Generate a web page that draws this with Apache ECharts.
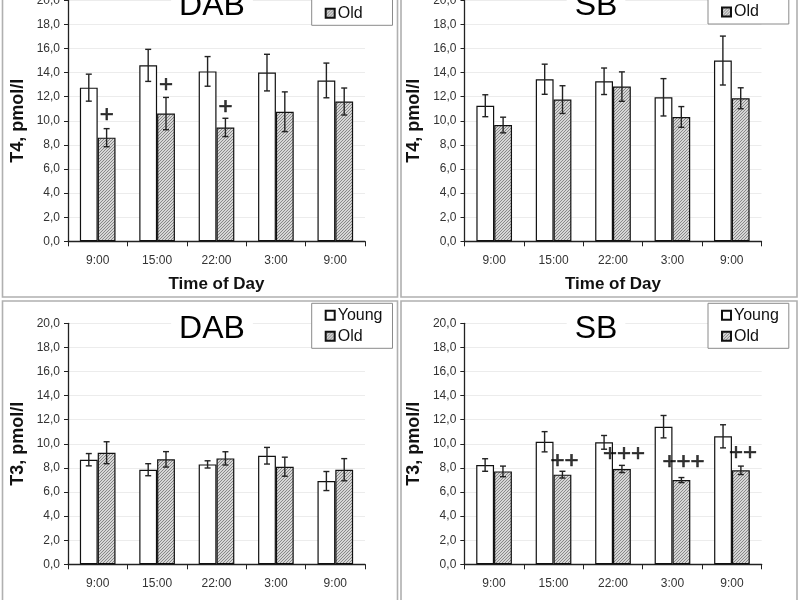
<!DOCTYPE html>
<html><head><meta charset="utf-8">
<script src="https://cdn.jsdelivr.net/npm/echarts@6/dist/echarts.min.js"></script>
<style>html,body{margin:0;padding:0;background:#fff}#c{width:800px;height:600px}</style>
</head><body><div id="c"></div>
<script>
// ---------- DATA ----------
const categories = ['9:00', '15:00', '22:00', '3:00', '9:00'];
const seriesNames = ['Young', 'Old'];
const yMin = 0, yMax = 20, yStep = 2;

const dabT4Young    = [12.75, 14.6, 14.1, 14.0, 13.35];
const dabT4YoungErr = [1.12, 1.33, 1.23, 1.52, 1.44];
const dabT4Old      = [8.6, 10.6, 9.45, 10.75, 11.6];
const dabT4OldErr   = [0.75, 1.34, 0.76, 1.65, 1.12];
const dabT4Marks    = ['+', '+', '+', '', ''];
const dabT4MarkAt   = [10.45, 12.95, 11.15, null, null];

const sbT4Young     = [11.25, 13.45, 13.28, 11.95, 15.0];
const sbT4YoungErr  = [0.91, 1.25, 1.1, 1.55, 2.03];
const sbT4Old       = [9.65, 11.76, 12.84, 10.32, 11.87];
const sbT4OldErr    = [0.65, 1.15, 1.22, 0.86, 0.87];
const sbT4Marks     = ['', '', '', '', ''];
const sbT4MarkAt    = [null, null, null, null, null];

const dabT3Young    = [8.68, 7.85, 8.29, 9.01, 6.91];
const dabT3YoungErr = [0.51, 0.5, 0.3, 0.69, 0.79];
const dabT3Old      = [9.26, 8.71, 8.79, 8.1, 7.85];
const dabT3OldErr   = [0.91, 0.64, 0.55, 0.79, 0.92];
const dabT3Marks    = ['', '', '', '', ''];
const dabT3MarkAt   = [null, null, null, null, null];

const sbT3Young     = [8.24, 10.17, 10.12, 11.42, 10.62];
const sbT3YoungErr  = [0.52, 0.84, 0.57, 0.93, 0.96];
const sbT3Old       = [7.71, 7.44, 7.91, 6.99, 7.8];
const sbT3OldErr    = [0.44, 0.28, 0.3, 0.21, 0.35];
const sbT3Marks     = ['', '++', '+++', '+++', '++'];
const sbT3MarkAt    = [null, 8.52, 9.16, 8.44, 9.24];

// ---------- LAYOUT ----------
const FONT = 'Arial, "Liberation Sans", sans-serif';
const panels = [
  { title: 'DAB', yName: 'T4, pmol/l', young: dabT4Young, youngErr: dabT4YoungErr, old: dabT4Old, oldErr: dabT4OldErr, marks: dabT4Marks, markAt: dabT4MarkAt,
    grid: { left: 68, top: 0.3, width: 297, height: 241 }, titlePos: [212, 5.8], legendPos: [311.7, -19.7], frame: [2.5, -40, 395, 337] },
  { title: 'SB', yName: 'T4, pmol/l', young: sbT4Young, youngErr: sbT4YoungErr, old: sbT4Old, oldErr: sbT4OldErr, marks: sbT4Marks, markAt: sbT4MarkAt,
    grid: { left: 464.5, top: 0.3, width: 297, height: 241 }, titlePos: [596, 5.8], legendPos: [708, -21], frame: [401, -40, 396, 337] },
  { title: 'DAB', yName: 'T3, pmol/l', young: dabT3Young, youngErr: dabT3YoungErr, old: dabT3Old, oldErr: dabT3OldErr, marks: dabT3Marks, markAt: dabT3MarkAt,
    grid: { left: 68, top: 323.3, width: 297, height: 241 }, titlePos: [212, 328.8], legendPos: [311.7, 303.3], frame: [2.5, 301, 395, 340] },
  { title: 'SB', yName: 'T3, pmol/l', young: sbT3Young, youngErr: sbT3YoungErr, old: sbT3Old, oldErr: sbT3OldErr, marks: sbT3Marks, markAt: sbT3MarkAt,
    grid: { left: 464.3, top: 323.3, width: 297.4, height: 241 }, titlePos: [596, 328.8], legendPos: [708, 303.3], frame: [401, 301, 396, 340] }
];

// hatch pattern
const pc = document.createElement('canvas');
pc.width = 3; pc.height = 3;
const pctx = pc.getContext('2d');
pctx.fillStyle = '#d6d6d6'; pctx.fillRect(0, 0, 3, 3);
pctx.fillStyle = '#888888';
for (let i = 0; i < 3; i++) pctx.fillRect(i, 2 - i, 1, 1);
const hatch = { image: pc, repeat: 'repeat' };

const BARW = 0.3;
function errSeries(k, vals, errs, sign) {
  return {
    type: 'custom', xAxisIndex: k, yAxisIndex: k, silent: true, z: 5,
    data: vals.map((v, i) => [i, v - errs[i], v + errs[i]]),
    renderItem(params, api) {
      const i = api.value(0);
      const lo = api.coord([i, api.value(1)]);
      const hi = api.coord([i, api.value(2)]);
      const bw = api.size([1, 0])[0] * BARW;
      const x = lo[0] + sign * bw / 2;
      const c = 3;
      const st = { stroke: '#222', lineWidth: 1.4 };
      return { type: 'group', children: [
        { type: 'line', shape: { x1: x, y1: lo[1], x2: x, y2: hi[1] }, style: st },
        { type: 'line', shape: { x1: x - c, y1: lo[1], x2: x + c, y2: lo[1] }, style: st },
        { type: 'line', shape: { x1: x - c, y1: hi[1], x2: x + c, y2: hi[1] }, style: st }
      ]};
    }
  };
}

const option = {
  backgroundColor: '#fff',
  animation: false,
  grid: [], xAxis: [], yAxis: [], series: [], legend: [], graphic: []
};

panels.forEach((p, k) => {
  option.grid.push(Object.assign({ outerBoundsMode: 'none', containLabel: false }, p.grid));
  option.xAxis.push({
    type: 'category', gridIndex: k, data: categories,
    axisLine: { lineStyle: { color: '#222', width: 1.3 } },
    axisTick: { show: true, length: 5, inside: false, lineStyle: { color: '#222' } },
    axisLabel: { fontSize: 12, color: '#333', margin: 13, fontFamily: FONT, interval: 0 },
    name: 'Time of Day', nameLocation: 'middle', nameGap: 35,
    nameTextStyle: { fontSize: 17, fontWeight: 'bold', color: '#111', fontFamily: FONT },
    splitLine: { show: false }
  });
  option.yAxis.push({
    type: 'value', gridIndex: k, min: yMin, max: yMax, interval: yStep,
    axisLine: { show: true, lineStyle: { color: '#222', width: 1.3 } },
    axisTick: { show: true, length: 4, inside: false, lineStyle: { color: '#222' } },
    axisLabel: { fontSize: 12, color: '#333', margin: 8, fontFamily: FONT,
      formatter: v => v.toFixed(1).replace('.', ',') },
    splitLine: { show: true, lineStyle: { color: '#ececec', width: 1 } },
    name: p.yName, nameLocation: 'middle', nameGap: 41,
    nameTextStyle: { fontSize: 18, fontWeight: 'bold', color: '#111', fontFamily: FONT }
  });
  option.series.push({
    type: 'bar', name: 'Young', xAxisIndex: k, yAxisIndex: k, data: p.young,
    barWidth: (BARW * 100) + '%', barGap: '0%',
    itemStyle: { color: '#fff', borderColor: '#111', borderWidth: 1.2 }
  });
  option.series.push({
    type: 'bar', name: 'Old', xAxisIndex: k, yAxisIndex: k, data: p.old,
    barWidth: (BARW * 100) + '%', barGap: '0%',
    itemStyle: { color: hatch, borderColor: '#111', borderWidth: 1.2 }
  });
  option.series.push(errSeries(k, p.young, p.youngErr, -1));
  option.series.push(errSeries(k, p.old, p.oldErr, 1));
  const md = p.marks.map((m, i) => m ? [i, p.markAt[i], m] : null).filter(Boolean);
  if (md.length) {
    option.series.push({
      type: 'scatter', xAxisIndex: k, yAxisIndex: k, silent: true, z: 6,
      symbolSize: 1, itemStyle: { color: 'transparent' },
      data: md,
      label: { show: true, position: 'inside', offset: [k === 3 ? 11 : 9, 0],
        formatter: q => q.data[2], fontSize: 24, fontWeight: 'normal', color: '#000',
        textBorderColor: '#000', textBorderWidth: 0.6, fontFamily: FONT }
    });
  }
  option.legend.push({
    data: seriesNames, orient: 'vertical', left: p.legendPos[0], top: p.legendPos[1],
    icon: 'rect', itemWidth: 9, itemHeight: 9, itemGap: 5,
    padding: [4, 10, 4, 13],
    backgroundColor: '#fff', borderColor: '#8a8a8a', borderWidth: 1,
    textStyle: { fontSize: 16, color: '#111', fontFamily: FONT, padding: [0, 0, 0, -2] },
    selectedMode: false
  });
  option.graphic.push({
    type: 'text', z: 50, x: p.titlePos[0], y: p.titlePos[1],
    style: { text: p.title, font: '32px ' + FONT, fill: '#000', textAlign: 'center', textVerticalAlign: 'middle',
      backgroundColor: '#fff', padding: [0, 8, 4, 8] }
  });
  option.graphic.push({
    type: 'rect', z: 60, silent: true,
    shape: { x: p.frame[0], y: p.frame[1], width: p.frame[2], height: p.frame[3] },
    style: { fill: 'none', stroke: '#b0b0b0', lineWidth: 1.6 }
  });
});

const chart = echarts.init(document.getElementById('c'), null, { renderer: 'canvas' });
chart.setOption(option);
</script>
</body></html>
